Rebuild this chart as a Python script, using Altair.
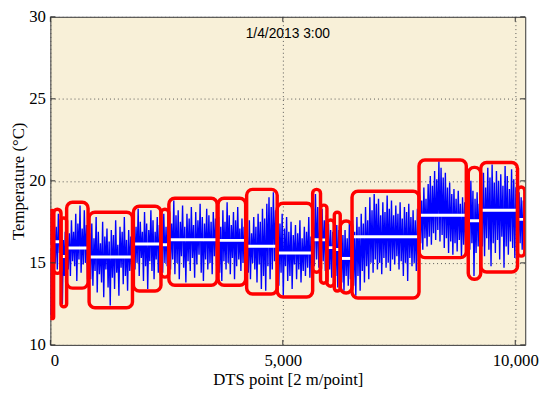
import altair as alt
import pandas as pd

# Segment boundaries (DTS point index) and temperature bounds of each red box
seg_start = [0, 70, 229, 350, 833, 1786, 2379, 2549, 3608, 4222, 4879, 5642, 5811, 5949, 6108, 6235, 6489, 7930, 8989, 9258, 10049]
seg_end = [70, 229, 350, 811, 1766, 2379, 2549, 3587, 4201, 4879, 5642, 5811, 5949, 6108, 6235, 6489, 7930, 8947, 9258, 10049, 10205]
seg_top = [18.2, 18.27, 17.73, 18.69, 18.09, 18.45, 18.27, 18.94, 18.94, 19.48, 18.63, 19.48, 18.52, 17.61, 18.09, 17.55, 19.36, 21.27, 20.82, 21.12, 19.62]
seg_bottom = [11.6, 14.36, 12.32, 13.46, 12.26, 13.28, 14.13, 13.64, 13.64, 13.1, 12.92, 14.43, 13.76, 13.58, 13.28, 13.16, 12.86, 15.32, 14.0, 14.44, 15.41]
seg_mean = [16.0, 16.29, 15.39, 15.91, 15.36, 16.15, 16.11, 16.41, 16.37, 16.01, 15.6, 16.41, 16.4, 15.93, 15.81, 15.27, 16.59, 17.9, 17.57, 18.21, 17.65]

# Temperature trace, segment by segment
trace = [
    [11.8, 17.9, 13.9, 17.6],
    [17.9, 15.0, 17.2, 14.6, 18.0, 15.6, 17.4],
    [17.0, 12.5, 16.4, 14.2, 16.9, 13.0],
    [17.2, 14.6, 16.8, 14.2, 17.6, 15.1, 16.9, 14.8, 18.0, 13.9, 17.4, 15.2, 18.5, 14.4, 17.1,
     14.9, 18.2, 15.0, 17.3, 14.0],
    [16.8, 14.0, 17.4, 13.6, 16.5, 14.5, 17.8, 13.2, 16.9, 14.3, 16.2, 13.8, 17.5, 12.9, 16.6,
     14.6, 17.1, 13.5, 16.3, 12.4, 17.0, 14.1, 16.7, 13.4, 17.6, 14.4, 16.1, 13.0, 17.2, 14.7,
     16.9, 13.7, 17.8, 14.2, 16.4, 13.3, 17.0, 14.5, 16.6, 13.9],
    [17.9, 14.6, 17.2, 15.0, 18.3, 14.2, 17.5, 15.3, 16.9, 13.9, 18.1, 14.8, 17.4, 13.4, 17.0,
     15.1, 18.2, 14.5, 17.6, 14.0, 16.9, 15.2, 17.8, 14.4, 17.3, 14.9],
    [17.6, 14.4, 18.0, 15.0, 17.2, 14.8, 17.5],
    [18.6, 14.6, 17.4, 15.2, 18.8, 14.3, 17.9, 15.0, 18.2, 14.0, 17.5, 15.4, 18.5, 14.7, 17.2,
     13.8, 18.0, 15.1, 17.7, 14.5, 18.4, 15.3, 17.3, 14.1, 18.1, 14.9, 17.6, 15.5, 18.6, 14.4,
     17.8, 13.9, 17.4, 15.2, 18.3, 14.6, 17.9, 15.0, 17.5, 14.3, 18.1, 15.4, 17.7, 14.8],
    [17.8, 14.4, 17.2, 13.9, 18.2, 15.1, 17.5, 14.6, 18.7, 15.0, 17.9, 14.3, 17.3, 15.3, 18.1,
     14.0, 17.6, 14.8, 18.4, 15.2, 17.1, 14.5, 17.7, 15.0, 17.2, 14.7],
    [17.0, 14.4, 17.6, 14.0, 16.8, 15.0, 17.8, 14.6, 17.2, 13.8, 18.0, 14.9, 17.5, 13.4, 18.3,
     14.2, 17.7, 13.3, 18.6, 14.8, 19.0, 14.0, 18.4, 14.6, 19.3, 15.1, 18.2, 14.9],
    [18.2, 13.6, 17.4, 14.4, 18.0, 13.0, 17.1, 14.8, 17.8, 13.9, 16.9, 14.2, 17.5, 13.4, 16.7,
     14.9, 17.3, 14.0, 16.8, 14.6, 17.6, 13.8, 16.5, 14.5, 17.2, 14.2, 16.9, 14.7, 17.8, 14.1,
     16.6, 14.8],
    [18.0, 14.8, 19.2, 15.2, 18.4, 14.7, 17.8],
    [14.0, 18.3, 15.1, 17.6, 14.5, 17.9],
    [13.8, 17.4, 14.6, 17.0, 14.1, 16.9, 14.8],
    [17.9, 14.2, 17.3, 13.5, 17.0, 14.4],
    [17.3, 13.8, 16.7, 13.3, 17.0, 14.2, 16.5, 13.6, 17.4, 14.0, 16.6],
    [17.6, 13.6, 16.9, 13.0, 17.8, 14.2, 17.2, 13.3, 18.0, 14.5, 17.4, 13.8, 18.4, 14.8, 17.6,
     14.0, 19.0, 15.0, 18.2, 14.4, 19.2, 15.2, 18.6, 14.6, 18.9, 15.0, 17.9, 14.3, 18.7, 15.3,
     18.1, 14.7, 19.1, 15.0, 18.3, 14.5, 18.8, 15.2, 17.9, 14.9, 18.5, 15.4, 18.0, 14.6, 18.7,
     15.1, 17.7, 14.2, 18.4, 15.0, 18.1, 13.9, 18.6, 15.3, 17.8, 14.8, 18.2, 15.0, 17.6, 14.5,
     18.3, 15.1],
    [19.3, 16.2, 18.8, 15.8, 19.6, 16.5, 18.9, 16.0, 19.8, 16.6, 20.3, 16.1, 19.7, 16.8, 20.6,
     16.4, 20.1, 17.0, 21.2, 16.3, 20.8, 16.7, 20.2, 15.9, 20.5, 16.5, 19.6, 15.6, 19.9, 16.3,
     19.2, 15.5, 19.5, 16.2, 18.9, 15.7, 19.4, 16.4, 18.6, 15.4, 19.0, 16.1, 18.7, 15.8],
    [19.0, 15.8, 20.0, 16.2, 19.4, 14.2, 18.9, 15.6, 19.3, 16.0, 18.6, 15.0],
    [19.8, 16.0, 20.5, 15.4, 19.6, 16.5, 20.8, 15.8, 20.2, 14.8, 21.0, 16.2, 19.9, 15.6, 20.6,
     16.4, 20.0, 15.2, 20.4, 16.6, 19.7, 14.7, 20.9, 16.0, 20.3, 15.5, 19.5, 16.3, 20.7, 15.9,
     20.1, 15.3, 19.6, 16.1],
    [15.6, 19.3, 16.2, 19.0, 15.8, 18.8, 16.4],
]

x_ticks = [0, 5000, 10000]
y_ticks = [10, 15, 20, 25, 30]
title_text = "1/4/2013 3:00"

W, H = 482, 333
XMAX = 10215

rows = []
for s, e, vals in zip(seg_start, seg_end, trace):
    n = len(vals)
    for i, v in enumerate(vals):
        rows.append({"x": s + (i + 0.5) * (e - s) / n, "t": v})
trace_df = pd.DataFrame(rows)

seg_df = pd.DataFrame({"s": seg_start, "e": seg_end, "top": seg_top,
                       "bot": seg_bottom, "mean": seg_mean})

xs = alt.Scale(domain=[0, XMAX], nice=False, zero=False)
ys = alt.Scale(domain=[10, 30], nice=False, zero=False)

x_axis = alt.Axis(values=x_ticks, format=",.0f", title="DTS point [2 m/point]", grid=True,
                  labelPadding=8, titlePadding=3)
y_axis = alt.Axis(values=y_ticks, title="Temperature (°C)", grid=True,
                  labelPadding=5, titlePadding=1)

line = alt.Chart(trace_df).mark_line(color="#0000FF", strokeWidth=1.4, clip=True).encode(
    x=alt.X("x:Q", scale=xs, axis=x_axis),
    y=alt.Y("t:Q", scale=ys, axis=y_axis),
)

means = alt.Chart(seg_df).mark_rule(color="white", strokeWidth=3, clip=True).encode(
    x=alt.X("s:Q", scale=xs), x2="e:Q", y=alt.Y("mean:Q", scale=ys)
)

boxes = alt.Chart(seg_df).mark_rect(
    fill="white", fillOpacity=0, stroke="#FF0000", strokeWidth=3.5, cornerRadius=6, clip=True
).encode(
    x=alt.X("s:Q", scale=xs), x2="e:Q", y=alt.Y("top:Q", scale=ys), y2="bot:Q"
)

ytick_df = pd.DataFrame({"v": y_ticks})
xtick_df = pd.DataFrame({"v": x_ticks})
tick_color = "#333333"
lt = alt.Chart(ytick_df).mark_rule(color=tick_color).encode(
    y=alt.Y("v:Q", scale=ys), x=alt.value(0), x2=alt.value(5))
rt = alt.Chart(ytick_df).mark_rule(color=tick_color).encode(
    y=alt.Y("v:Q", scale=ys), x=alt.value(W - 5), x2=alt.value(W))
bt = alt.Chart(xtick_df).mark_rule(color=tick_color).encode(
    x=alt.X("v:Q", scale=xs), y=alt.value(H - 5), y2=alt.value(H))
tt = alt.Chart(xtick_df).mark_rule(color=tick_color).encode(
    x=alt.X("v:Q", scale=xs), y=alt.value(0), y2=alt.value(5))

title = alt.Chart(pd.DataFrame({"txt": [title_text]})).mark_text(
    font="Liberation Sans", fontSize=14, color="black", baseline="alphabetic"
).encode(x=alt.value(W / 2), y=alt.value(22), text="txt:N")

chart = alt.layer(line, means, boxes, lt, rt, bt, tt, title).properties(
    width=W, height=H,
    autosize=alt.AutoSizeParams(type="none"),
    padding={"left": 43, "top": 6, "right": 17, "bottom": 52},
).configure_view(
    fill="#F8F0D8", stroke="#333333", strokeWidth=1
).configure_axis(
    labelFont="Liberation Serif", labelFontSize=17, labelColor="black",
    titleFont="Liberation Serif", titleFontSize=17, titleFontWeight="normal", titleColor="black",
    domain=False, ticks=False, gridColor="#555555", gridDash=[1, 3], gridOpacity=1, gridWidth=1,
)

chart.save("out.html", embed_options={"renderer": "svg", "actions": False})
